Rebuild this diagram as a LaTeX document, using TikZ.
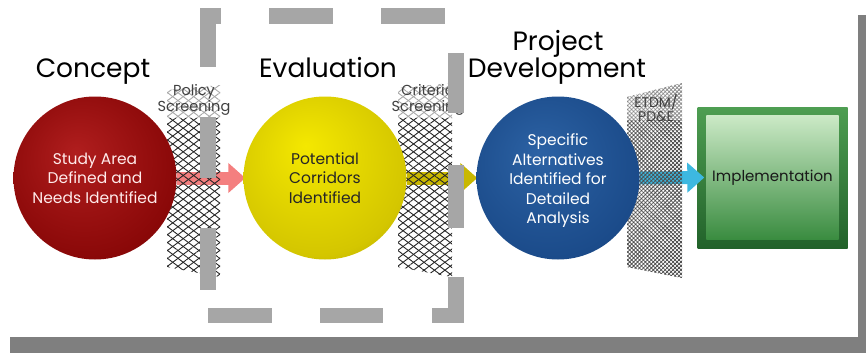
\documentclass[tikz,border=0pt]{standalone}
\usepackage{fontspec}
\setmainfont{Poppins}
\usetikzlibrary{arrows.meta,patterns.meta}
\pgfdeclarelayer{back}
\pgfdeclarelayer{mid}
\pgfdeclarelayer{front}
\pgfsetlayers{back,mid,main,front}
\definecolor{redA}{HTML}{B01E1E}
\definecolor{redB}{HTML}{8A0808}
\definecolor{redC}{HTML}{560000}
\definecolor{yelA}{HTML}{F4E800}
\definecolor{yelB}{HTML}{D4C600}
\definecolor{yelC}{HTML}{8C7E00}
\definecolor{bluA}{HTML}{2C62A4}
\definecolor{bluB}{HTML}{1B4B8A}
\definecolor{bluC}{HTML}{0B285A}
\definecolor{framegray}{HTML}{A6A6A6}
\definecolor{bargray}{HTML}{7F7F7F}
\definecolor{pinkc}{HTML}{F47F7F}
\definecolor{olivec}{HTML}{C9B800}
\definecolor{cyanc}{HTML}{3DB8E0}
\definecolor{grnOutTop}{HTML}{4E9E52}
\definecolor{grnOutBot}{HTML}{22622A}
\definecolor{grnInTop}{HTML}{CBE9C6}
\definecolor{grnInBot}{HTML}{3A8C40}
\definecolor{labelgray}{HTML}{404040}
\pgfdeclareradialshading{redball}{\pgfpoint{-6bp}{8bp}}{color(0bp)=(redA); color(28bp)=(redB); color(50bp)=(redC)}
\pgfdeclareradialshading{yelball}{\pgfpoint{-6bp}{10bp}}{color(0bp)=(yelA); color(28bp)=(yelB); color(50bp)=(yelC)}
\pgfdeclareradialshading{bluball}{\pgfpoint{-6bp}{8bp}}{color(0bp)=(bluA); color(28bp)=(bluB); color(50bp)=(bluC)}
\tikzset{
  ball/.style={circle, minimum size=163pt, inner sep=0pt, align=center,
    font=\fontsize{15.5}{19.5}\selectfont},
  balltext/.style={align=center, inner sep=0pt, font=\fontsize{15.5}{19.5}\selectfont},
  heading/.style={anchor=base, font=\fontsize{26.5}{28}\selectfont, text=black, inner sep=0pt},
  smalllabel/.style={align=center, font=\fontsize{14.5}{15.5}\selectfont, text=labelgray, inner sep=0pt},
  blockarrow/.style={line width=13pt, -{Triangle[length=17pt,width=29pt]}},
  mesh/.style={pattern={Lines[angle=#1,distance=6.3pt,line width=0.9pt]}, pattern color=black!85},
  finemesh/.style={pattern={Lines[angle=#1,distance=2.8pt,line width=0.8pt]}, pattern color=black!70},
  framepiece/.style={fill=framegray},
}
\begin{document}
\begin{tikzpicture}[x=1pt,y=-1pt]
\useasboundingbox (0,0) rectangle (866,353);
\begin{pgfonlayer}{back}
  \fill[white] (0,0) rectangle (866,353);
\end{pgfonlayer}

% circles and box
\node[ball, shade, shading=redball, text=white!92!red] (concept) at (95,178)
  {Study Area\\Defined and\\Needs Identified};
\node[ball, shade, shading=yelball, text=black!85] (evaluation) at (325,178)
  {Potential\\Corridors\\Identified};
\node[ball, shade, shading=bluball] (project) at (558,178) {};
\node[balltext, text=white] (projecttext) at ([yshift=-3pt]project.center)
  {Specific\\Alternatives\\Identified for\\Detailed\\Analysis};

\begin{pgfonlayer}{back}
  \node[draw=none, minimum width=150pt, minimum height=141pt, inner sep=0pt,
        top color=grnOutTop, bottom color=grnOutBot] (impl) at (772.5,177.5) {};
  \shade[top color=grnInTop, bottom color=grnInBot]
    ([xshift=9pt,yshift=-9pt]impl.north west) rectangle ([xshift=-9pt,yshift=9pt]impl.south east);
  \node[font=\fontsize{15}{17}\selectfont, text=black!90, inner sep=0pt] (impltext) at (impl.center) {Implementation};
  % arrows
  \draw[blockarrow, draw=pinkc] (concept.east) -- ([xshift=2pt]evaluation.west);
  \draw[blockarrow, draw=olivec] (evaluation.east) -- ([xshift=1pt]project.west);
  \draw[blockarrow, draw=cyanc] (project.east) -- ([xshift=7pt]impl.west);
\end{pgfonlayer}

% screens (mesh)
\begin{pgfonlayer}{mid}
  \foreach \a in {37,-37}{
    \fill[mesh=\a] (167,90) -- (220,85) -- (220,277) -- (167,267) -- cycle;
    \fill[mesh=\a] (398,88) -- (452,83) -- (452,277) -- (398,267) -- cycle;
  }
  \foreach \a in {45,-45}{
    \fill[finemesh=\a] (627,97) -- (682,83) -- (682,278) -- (627,267) -- cycle;
  }
  \fill[white, opacity=0.6] (165,83) rectangle (222,118);
  \fill[white, opacity=0.6] (396,81) rectangle (454,118);
  \fill[white, opacity=0.35] (625,81) rectangle (684,120);
\end{pgfonlayer}

% headings
\node[heading] (hconcept) at (93,77) {Concept};
\node[heading] (heval) at (328,77) {Evaluation};
\node[heading] (hproj1) at (558,50) {Project};
\node[heading] (hproj2) at (557,77) {Development};

% screen labels
\node[smalllabel] (lpolicy) at (194,100) {Policy\\Screening};
\node[smalllabel] (lcrit) at (428,100) {Criteria\\Screening};
\node[smalllabel, font=\fontsize{14}{14.5}\selectfont] (letdm) at (656,108) {ETDM/\\PD\&E};

% outer bars
\fill[bargray] (10,337) rectangle (866,353);
\fill[bargray] (858,15) rectangle (866,353);

% dashed frame around Evaluation
\begin{pgfonlayer}{front}
  \fill[framepiece] (200,8) rectangle (221,24);
  \fill[framepiece] (200,8) rectangle (216,67);
  \fill[framepiece] (269,8) rectangle (333,24);
  \fill[framepiece] (381,8) rectangle (445,24);
  \fill[framepiece] (448,53) rectangle (464,113);
  \fill[framepiece] (448,165) rectangle (464,228);
  \fill[framepiece] (448,277) rectangle (464,323);
  \fill[framepiece] (432,308) rectangle (464,323);
  \fill[framepiece] (200,117) rectangle (216,178);
  \fill[framepiece] (200,228) rectangle (216,290);
  \fill[framepiece] (208,308) rectangle (272,323);
  \fill[framepiece] (320,308) rectangle (383,323);
\end{pgfonlayer}
\end{tikzpicture}
\end{document}
